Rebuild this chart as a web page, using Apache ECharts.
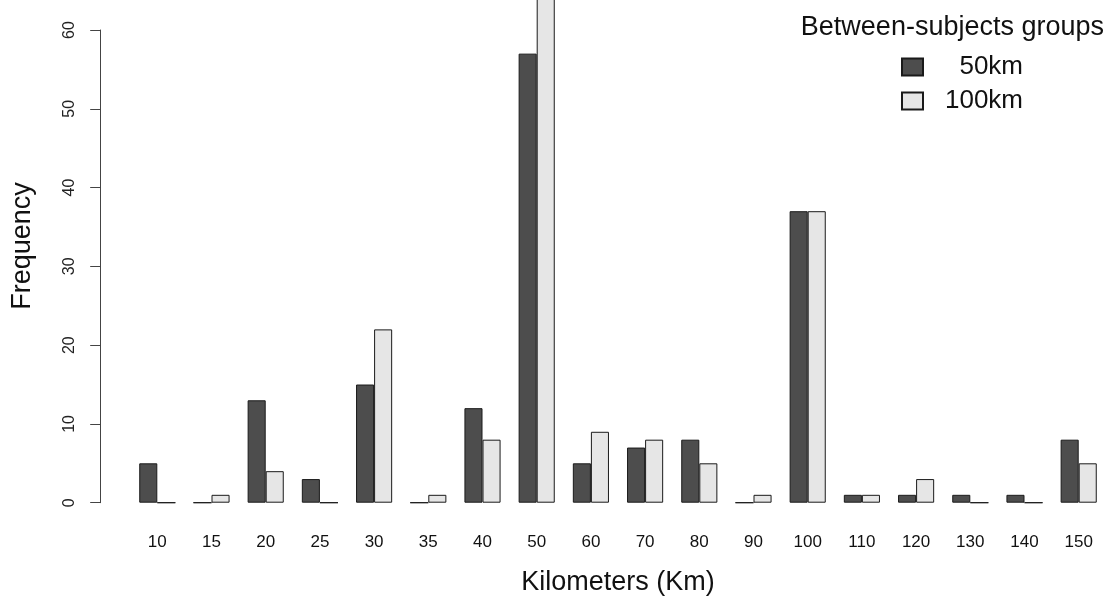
<!DOCTYPE html>
<html>
<head>
<meta charset="utf-8">
<script src="https://cdn.jsdelivr.net/npm/echarts@6/dist/echarts.min.js"></script>
<style>
html,body{margin:0;padding:0;background:#fff;}
#chart{width:1115px;height:596px;}
</style>
</head>
<body>
<div id="chart"></div>
<script>
var categories = ['10','15','20','25','30','35','40','50','60','70','80','90','100','110','120','130','140','150'];
var group50 = [5, 0, 13, 3, 15, 0, 12, 57, 5, 7, 8, 0, 37, 1, 1, 1, 1, 8];
var group100 = [0, 1, 4, 0, 22, 1, 8, 66, 9, 8, 5, 1, 37, 1, 3, 0, 0, 5];
var yTicks = [0, 10, 20, 30, 40, 50, 60];

var FONT = '"Liberation Sans", Arial, sans-serif';
var chart = echarts.init(document.getElementById('chart'), null, {renderer: 'canvas'});
chart.setOption({
  animation: false,
  backgroundColor: '#ffffff',
  textStyle: {fontFamily: FONT},
  title: {
    text: 'Between-subjects groups',
    right: 6, top: 9,
    textStyle: {fontFamily: FONT, fontSize: 27, fontWeight: 'normal', color: '#111'}
  },
  legend: {
    orient: 'vertical',
    left: 896, top: 49,
    itemWidth: 21, itemHeight: 17, itemGap: 8,
    icon: 'rect',
    data: ['50km', '100km'],
    formatter: function (n) { return '{a|' + n + '}'; },
    textStyle: {
      fontFamily: FONT, fontSize: 26, color: '#111',
      rich: {a: {fontFamily: FONT, fontSize: 26, color: '#111', width: 95, align: 'right'}}
    }
  },
  grid: {left: 130.2, right: 9.2, top: 30, bottom: 93.3, containLabel: false, outerBoundsMode: 'none'},
  xAxis: {
    type: 'category',
    data: categories,
    axisLine: {show: false},
    axisTick: {show: false},
    axisLabel: {margin: 31, fontSize: 17, color: '#111', fontFamily: FONT},
    name: 'Kilometers (Km)',
    nameLocation: 'middle',
    nameGap: 66,
    nameTextStyle: {fontSize: 27, color: '#111', fontFamily: FONT}
  },
  yAxis: {
    type: 'value',
    min: 0, max: 60, interval: 10,
    offset: 30,
    splitLine: {show: false},
    axisLine: {show: true, lineStyle: {color: '#444', width: 1}},
    axisTick: {show: true, length: 10, lineStyle: {color: '#444', width: 1}},
    axisLabel: {
      rotate: 90, margin: 23, fontSize: 16, color: '#222', fontFamily: FONT,
      customValues: yTicks
    }
  },
  graphic: [{
    type: 'text',
    x: 23, y: 246,
    rotation: Math.PI / 2,
    style: {text: 'Frequency', font: '27px ' + FONT, fill: '#111', align: 'center', verticalAlign: 'middle'}
  }],
  series: [
    {
      name: '50km', type: 'bar', data: group50, clip: false,
      barWidth: '33.33%', barGap: '0%',
      itemStyle: {color: '#4d4d4d', borderColor: '#1a1a1a', borderWidth: 1}
    },
    {
      name: '100km', type: 'bar', data: group100, clip: false,
      barWidth: '33.33%', barGap: '0%',
      itemStyle: {color: '#e6e6e6', borderColor: '#1a1a1a', borderWidth: 1}
    }
  ]
});
</script>
</body>
</html>
